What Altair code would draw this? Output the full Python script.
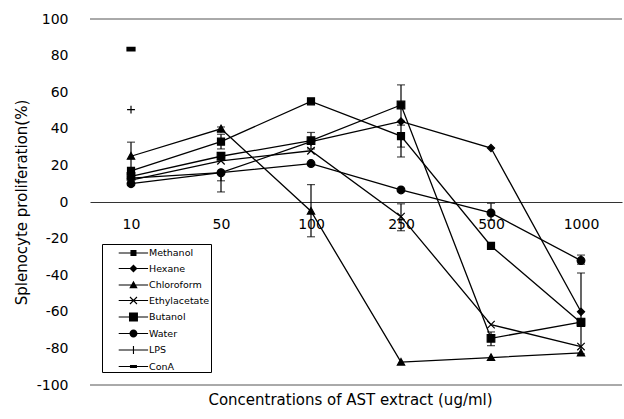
import altair as alt
import pandas as pd

concentrations = ["10", "50", "100", "250", "500", "1000"]
series_names = ["Methanol", "Hexane", "Chloroform", "Ethylacetate", "Butanol", "Water", "LPS", "ConA"]

methanol = [17, 33, 55, 36, -24, -66]
hexane = [13, 16, 33, 44, 29.5, -60]
chloroform = [25, 40, -5, -87.5, -85, -82.5]
ethylacetate = [12, 22.5, 28, -8, -67, -79]
butanol = [14, 25, 33.5, 53, -74.5, -65.6]
water = [10, 16, 21, 6.6, -6, -32]
lps_conc = ["10"]
lps = [50.5]
cona_conc = ["10"]
cona = [83.5]

err_conc = ["10", "50", "50", "50", "50", "100", "100", "250", "250", "250", "250", "500", "500", "1000", "1000"]
err_low = [18, 38, 5.5, 11.6, 29, 29, -19, 42, 24.6, 30, -15.7, -10, -78.5, -34, -83]
err_high = [32.7, 41, 16, 16, 37, 38, 9.5, 64, 36, 44, -1, -0.7, -71, -29, -38.8]

frame_values = [100, -100]
y_ticks = [100, 80, 60, 40, 20, 0, -20, -40, -60, -80, -100]

rows = []
for name, vals in [("Methanol", methanol), ("Hexane", hexane), ("Chloroform", chloroform),
                   ("Ethylacetate", ethylacetate), ("Butanol", butanol), ("Water", water)]:
    for c, v in zip(concentrations, vals):
        rows.append({"series": name, "conc": c, "value": v})
for c, v in zip(lps_conc, lps):
    rows.append({"series": "LPS", "conc": c, "value": v})
for c, v in zip(cona_conc, cona):
    rows.append({"series": "ConA", "conc": c, "value": v})
df = pd.DataFrame(rows)

err_df = pd.DataFrame({"conc": err_conc, "low": err_low, "high": err_high})
frame_df = pd.DataFrame({"value": frame_values})

marker_paths = [
    "M-1,-1H1V1H-1Z",                       # Methanol small square
    "M0,-1L1,0L0,1L-1,0Z",                  # Hexane diamond
    "M0,-1L1,0.8L-1,0.8Z",                  # Chloroform triangle
    "M-1,-1L1,1M-1,1L1,-1",                 # Ethylacetate x
    "M-1,-1H1V1H-1Z",                       # Butanol big square
    "M1,0A1,1,0,1,1,-1,0A1,1,0,1,1,1,0Z",   # Water circle
    "M-1,0H1M0,-1V1",                       # LPS plus
    "M-1,-0.45H1V0.45H-1Z",                 # ConA dash
]
marker_sizes = [49, 64, 81, 56, 100, 64, 144, 14]

# legend glyphs: a short line with the series marker in its middle (all filled shapes)
LINE = "M1.1,-0.086H5.3V0.086H1.1Z"
legend_paths = [
    LINE + "M2.78,-0.43H3.64V0.43H2.78Z",
    LINE + "M3.21,-0.57L3.78,0L3.21,0.57L2.64,0Z",
    LINE + "M3.21,-0.6L3.81,0.45L2.61,0.45Z",
    LINE + "M2.767,-0.557L3.767,0.443L3.653,0.557L2.653,-0.443Z"
           "M2.653,0.443L3.653,-0.557L3.767,-0.443L2.767,0.557Z",
    LINE + "M2.57,-0.64H3.85V0.64H2.57Z",
    LINE + "M3.78,0A0.57,0.57,0,1,1,2.64,0A0.57,0.57,0,1,1,3.78,0Z",
    LINE + "M3.13,-0.57H3.29V0.57H3.13Z",
    LINE + "M2.71,-0.2H3.71V0.2H2.71Z",
]

FONT = "DejaVu Sans"

x_enc = alt.X(
    "conc:O",
    sort=concentrations,
    scale=alt.Scale(type="point", domain=concentrations, padding=0.4556),
    axis=alt.Axis(
        title="Concentrations of AST extract (ug/ml)",
        orient="bottom", offset=-183, domain=True, domainColor="#333", domainWidth=1,
        ticks=False, labelPadding=15, labelFontSize=14, labelAngle=0, labelColor="black",
        titleX=260, titleY=190, titleBaseline="top", titleFontSize=15,
        titleFontWeight="normal", titleColor="black",
    ),
)
y_scale = alt.Scale(domain=[-100, 100], nice=False, zero=False)
y_axis = alt.Axis(
    title="Splenocyte proliferation(%)", values=y_ticks, domain=False, ticks=False,
    grid=False, labelPadding=22, labelFontSize=14, labelColor="black",
    labelExpr="'' + datum.value", titleFontSize=15, titlePadding=7,
    titleFontWeight="normal", titleColor="black",
)
y_enc = alt.Y("value:Q", scale=y_scale, axis=y_axis)

frame = alt.Chart(frame_df).mark_rule(color="#555", strokeWidth=1).encode(y=y_enc)

lines = alt.Chart(df).mark_line(color="black", strokeWidth=1.3).encode(
    x=x_enc, y=y_enc, detail="series:N"
)

err_rules = alt.Chart(err_df).mark_rule(color="black", strokeWidth=1.2).encode(
    x=x_enc, y=alt.Y("low:Q", scale=y_scale, axis=y_axis), y2="high:Q"
)
err_caps = alt.Chart(err_df).transform_fold(["low", "high"], as_=["end", "value"]).mark_tick(
    orient="horizontal", size=8, thickness=1.2, color="black"
).encode(x=x_enc, y=y_enc)

points = alt.Chart(df).mark_point(
    filled=True, fill="black", stroke="black", strokeWidth=1.2, opacity=1
).encode(
    x=x_enc, y=y_enc,
    shape=alt.Shape("series:N", scale=alt.Scale(domain=series_names, range=marker_paths), legend=None),
    size=alt.Size("series:N", scale=alt.Scale(domain=series_names, range=marker_sizes), legend=None),
)

legend_layer = alt.Chart(df).transform_filter("datum.value > 1000").transform_calculate(
    key="datum.series"
).mark_point(
    filled=False, fill="black", stroke="black", strokeWidth=1.2, size=196, opacity=1
).encode(
    x=x_enc, y=y_enc,
    shape=alt.Shape(
        "key:N",
        scale=alt.Scale(domain=series_names, range=legend_paths),
        legend=alt.Legend(
            title=None, orient="none", legendX=12, legendY=225,
            strokeColor="black", fillColor="white", padding=1, rowPadding=1.5,
            labelFont=FONT, labelFontSize=9.5, labelColor="black", labelOffset=30,
            symbolStrokeColor="black", symbolFillColor="black", symbolStrokeWidth=1.2,
            symbolSize=196, cornerRadius=0,
        ),
    ),
)

chart = alt.layer(frame, lines, err_rules, err_caps, points, legend_layer).resolve_scale(
    shape="independent", size="independent"
).resolve_legend(shape="independent", size="independent").properties(
    width=532, height=366,
    padding={"left": 90, "top": 19, "right": 2, "bottom": 34},
    autosize=alt.AutoSizeParams(type="none"),
    background="white",
).configure_view(stroke=None).configure_axis(
    labelFont=FONT, titleFont=FONT
)

chart.save("out.html", embed_options={"renderer": "svg", "actions": False})
